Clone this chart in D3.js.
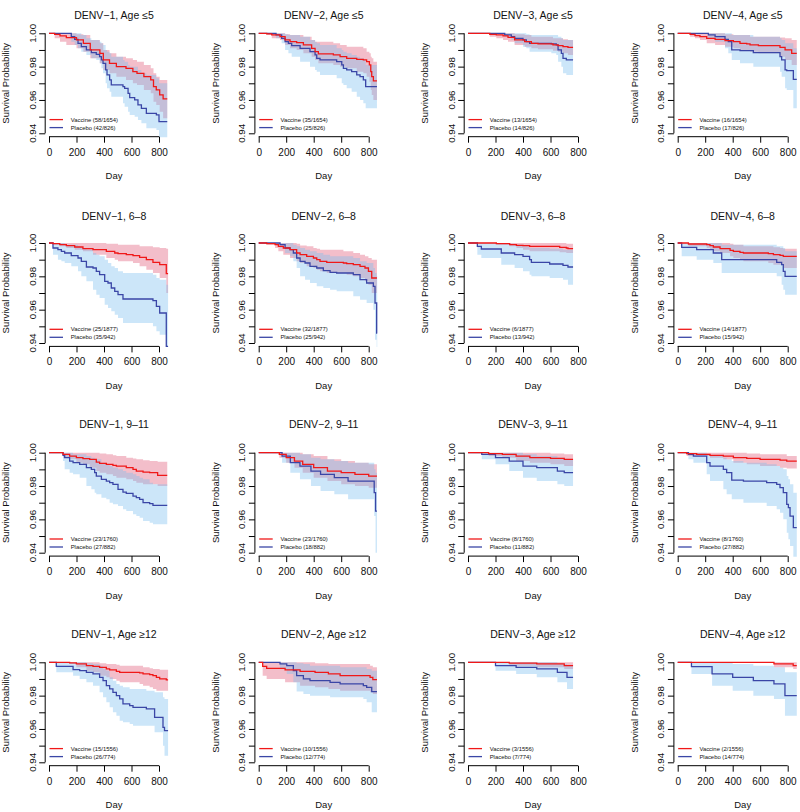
<!DOCTYPE html>
<html><head><meta charset="utf-8">
<script src="https://cdn.jsdelivr.net/npm/d3@7"></script>
<style>body{margin:0;background:#fff}svg text{font-family:"Liberation Sans",Arial,Helvetica,sans-serif;fill:#111}</style>
</head><body><svg id="c" width="800" height="812"></svg>
<script>
// ---- labels ----
const serotypes = ["DENV\u22121","DENV\u22122","DENV\u22123","DENV\u22124"];
const ageGroups = ["Age \u22645","6\u20138","9\u201311","Age \u226512"];
const vaccineCounts = [
  ["58/1654","35/1654","13/1654","16/1654"],
  ["25/1877","32/1877","6/1877","14/1877"],
  ["23/1760","23/1760","8/1760","8/1760"],
  ["15/1556","10/1556","3/1556","2/1556"]];
const placeboCounts = [
  ["42/826","25/826","14/826","17/826"],
  ["35/942","25/942","13/942","15/942"],
  ["27/882","18/882","11/882","27/882"],
  ["26/774","12/774","7/774","14/774"]];
const xTicks = [0,200,400,600,800];
const yTicks = [0.94,0.95,0.96,0.97,0.98,0.99,1.00];
const yTickLabels = [0.94,0.96,0.98,1.00];

// ---- curves: [day, survival, lower CI, upper CI] (step after) ----
const D1_A5_VAC=[[0,1,1,1],[41,.9994,.997,1],[80,.9984,.995,1],[126,.9974,.993,1],[200,.996,.991,.9995],[250,.994,.989,.999],[300,.990,.985,.996],[370,.988,.982,.994],[395,.984,.978,.990],[440,.982,.976,.988],[490,.980,.974,.986],[560,.979,.972,.985],[610,.977,.970,.984],[640,.976,.969,.983],[690,.974,.966,.981],[740,.972,.964,.979],[760,.968,.959,.976],[780,.966,.957,.974],[805,.963,.953,.972],[830,.9606,.949,.972],[860,.9606,.949,.972]];
const D1_A5_PLA=[[0,1,1,1],[162,.998,.995,1],[187,.9964,.993,1],[211,.994,.991,1],[235,.992,.989,.999],[272,.990,.987,.997],[308,.9884,.985,.996],[344,.9874,.984,.996],[368,.986,.982,.995],[381,.984,.979,.994],[393,.982,.976,.993],[412,.978,.970,.990],[422,.975,.967,.989],[441,.972,.965,.988],[453,.969,.962,.986],[538,.968,.958,.984],[550,.967,.956,.983],[575,.964,.953,.981],[587,.9614,.951,.980],[623,.960,.950,.980],[647,.957,.948,.978],[672,.955,.946,.976],[708,.952,.943,.975],[781,.951,.942,.973],[800,.947,.936,.970],[860,.947,.936,.970]];
const D2_A5_VAC=[[0,1,1,1],[58,.9996,.999,1],[95,.999,.997,1],[155,.998,.996,1],[192,.996,.993,.9995],[228,.995,.991,.999],[276,.9944,.990,.999],[325,.993,.988,.998],[385,.991,.986,.996],[410,.989,.984,.995],[434,.9876,.982,.995],[543,.987,.981,.994],[592,.986,.980,.993],[640,.985,.979,.992],[713,.9844,.977,.992],[761,.984,.976,.991],[785,.983,.974,.989],[805,.981,.971,.988],[815,.977,.966,.986],[822,.974,.963,.985],[834,.9714,.960,.983],[860,.9714,.960,.983]];
const D2_A5_PLA=[[0,1,1,1],[126,.999,.997,1],[167,.997,.994,1],[192,.995,.990,.9995],[216,.994,.988,.999],[240,.9926,.986,.999],[301,.991,.983,.998],[373,.989,.980,.996],[410,.987,.978,.995],[422,.985,.977,.994],[446,.984,.975,.993],[567,.983,.973,.991],[604,.981,.970,.990],[616,.979,.969,.989],[640,.978,.967,.988],[676,.977,.965,.987],[713,.975,.962,.986],[737,.974,.960,.985],[761,.972,.958,.984],[778,.968,.955,.981],[860,.968,.955,.981]];
const D3_A5_VAC=[[0,1,1,1],[158,.9994,.998,1],[206,.999,.997,1],[255,.9984,.996,1],[291,.9976,.995,1],[339,.996,.993,.9995],[412,.995,.992,.999],[461,.994,.991,.998],[509,.9936,.9905,.998],[618,.993,.9895,.997],[655,.9926,.989,.997],[691,.992,.988,.9965],[727,.9916,.987,.996],[764,.9916,.987,.996]];
const D3_A5_PLA=[[0,1,1,1],[267,.999,.998,1],[315,.998,.996,1],[339,.997,.994,1],[400,.996,.992,1],[424,.995,.991,.9995],[448,.994,.989,.999],[606,.9936,.988,.999],[642,.993,.987,.999],[655,.990,.983,.998],[679,.988,.980,.997],[691,.985,.976,.996],[715,.984,.975,.996],[764,.984,.975,.996]];
const D4_A5_VAC=[[0,1,1,1],[90,.9994,.998,1],[126,.9986,.997,1],[162,.998,.996,1],[211,.997,.994,1],[272,.9964,.993,1],[344,.9956,.992,.9995],[405,.995,.991,.999],[453,.994,.990,.999],[502,.9936,.9895,.999],[526,.993,.989,.998],[587,.9926,.988,.998],[744,.9916,.986,.9975],[781,.990,.984,.997],[829,.988,.981,.996],[866,.988,.981,.996]];
const D4_A5_PLA=[[0,1,1,1],[223,.999,.997,1],[272,.998,.995,1],[344,.9964,.991,1],[368,.995,.988,1],[393,.990,.984,.999],[453,.9896,.982,.999],[550,.9884,.980,.998],[744,.986,.977,.997],[756,.984,.974,.996],[781,.978,.967,.994],[793,.9776,.966,.994],[841,.9724,.955,.991],[866,.9724,.955,.991]];

const D1_A68_VAC=[[0,1,1,1],[29,.9996,.999,1],[78,.999,.998,1],[126,.9984,.997,1],[187,.9976,.996,1],[247,.9966,.995,1],[320,.996,.993,1],[417,.995,.991,.9995],[478,.994,.990,.9995],[502,.9936,.989,.999],[562,.993,.989,.999],[611,.9924,.988,.999],[659,.9914,.986,.998],[708,.990,.984,.998],[756,.9884,.982,.9975],[805,.987,.979,.997],[853,.9816,.970,.9966],[866,.9816,.970,.9966]];
const D1_A68_PLA=[[0,1,1,1],[29,.997,.993,1],[65,.996,.990,1],[90,.995,.989,1],[114,.994,.988,.999],[162,.9924,.986,.999],[211,.991,.983,.998],[235,.989,.980,.997],[272,.9856,.977,.996],[320,.985,.972,.994],[344,.983,.969,.993],[368,.981,.967,.992],[405,.977,.963,.990],[429,.976,.961,.988],[453,.973,.959,.986],[478,.971,.957,.985],[502,.969,.955,.983],[538,.9664,.952,.982],[756,.9654,.950,.981],[781,.962,.947,.979],[805,.958,.945,.978],[853,.938,.920,.975],[866,.938,.920,.975]];
const D2_A68_VAC=[[0,1,1,1],[58,.9996,.999,1],[119,.999,.997,1],[143,.998,.995,1],[179,.997,.993,1],[228,.996,.991,1],[276,.994,.989,.9995],[301,.993,.988,.9985],[349,.992,.986,.998],[398,.991,.985,.997],[422,.990,.984,.9965],[446,.989,.983,.996],[495,.9884,.982,.996],[616,.988,.982,.995],[640,.9876,.981,.995],[688,.987,.980,.994],[737,.986,.979,.993],[773,.985,.977,.992],[798,.983,.975,.991],[822,.979,.970,.990],[860,.979,.970,.990]];
const D2_A68_PLA=[[0,1,1,1],[155,.999,.997,1],[192,.997,.994,1],[228,.996,.992,1],[252,.994,.989,.999],[276,.991,.985,.998],[301,.989,.980,.997],[337,.988,.978,.996],[373,.986,.976,.995],[422,.985,.974,.994],[470,.9834,.973,.993],[519,.9824,.972,.992],[567,.982,.971,.992],[688,.981,.968,.991],[737,.978,.966,.989],[785,.976,.964,.988],[834,.974,.960,.985],[846,.964,.942,.982],[858,.946,.920,.980],[862,.946,.920,.980]];
const D3_A68_VAC=[[0,1,1,1],[206,.9996,.999,1],[303,.999,.998,1],[352,.9986,.997,1],[400,.9984,.996,1],[448,.998,.995,1],[667,.9974,.9945,1],[715,.997,.994,.9995],[727,.9966,.994,.9995],[764,.9966,.994,.9995]];
const D3_A68_PLA=[[0,1,1,1],[68,.998,.993,1],[97,.9964,.991,1],[242,.994,.987,.9995],[339,.993,.985,.999],[400,.992,.983,.998],[448,.990,.981,.997],[461,.9884,.980,.997],[594,.9874,.979,.9965],[691,.9866,.978,.996],[727,.9856,.975,.996],[764,.9856,.975,.996]];
const D4_A68_VAC=[[0,1,1,1],[78,.9994,.998,1],[211,.999,.997,1],[235,.9984,.996,1],[259,.9976,.995,1],[308,.9966,.994,1],[381,.9956,.992,.9995],[405,.995,.991,.999],[453,.9944,.990,.999],[478,.994,.989,.998],[659,.9936,.988,.998],[696,.993,.987,.9975],[744,.9926,.987,.997],[768,.992,.985,.9965],[866,.992,.985,.9965]];
const D4_A68_PLA=[[0,1,1,1],[29,.9974,.992,1],[138,.996,.990,1],[259,.994,.988,1],[320,.990,.982,.999],[720,.9884,.980,.998],[756,.987,.975,.998],[768,.983,.972,.997],[781,.980,.969,.995],[866,.980,.969,.995]];

const D1_A911_VAC=[[0,1,1,1],[102,.999,.997,1],[150,.998,.996,1],[199,.997,.994,1],[247,.9964,.993,1],[296,.996,.991,1],[344,.9944,.989,1],[368,.9936,.988,.9995],[417,.993,.987,.999],[465,.9924,.986,.9985],[490,.992,.985,.998],[562,.991,.984,.997],[611,.990,.983,.9965],[635,.989,.982,.996],[684,.9884,.981,.9955],[732,.988,.981,.995],[790,.9864,.980,.9945],[860,.9864,.980,.9945]];
const D1_A911_PLA=[[0,1,1,1],[102,.9984,.995,1],[114,.997,.990,1],[150,.995,.988,1],[175,.994,.987,.999],[223,.993,.985,.999],[272,.991,.980,.998],[308,.990,.978,.997],[332,.988,.976,.996],[344,.986,.975,.996],[381,.984,.973,.994],[417,.983,.972,.993],[441,.982,.970,.992],[465,.981,.969,.991],[502,.978,.968,.990],[538,.9764,.966,.989],[562,.9756,.965,.988],[611,.974,.963,.987],[635,.973,.962,.986],[659,.972,.961,.985],[684,.970,.959,.984],[732,.9694,.958,.982],[756,.9684,.957,.981],[860,.9684,.957,.981]];
const D2_A911_VAC=[[0,1,1,1],[150,.999,.997,1],[200,.997,.994,1],[260,.995,.991,1],[320,.993,.988,.999],[400,.991,.985,.998],[500,.989,.983,.996],[600,.988,.981,.995],[700,.987,.980,.994],[800,.986,.979,.993],[860,.986,.979,.993]];
const D2_A911_PLA=[[0,1,1,1],[170,.998,.994,1],[230,.994,.988,1],[300,.992,.984,.999],[380,.989,.980,.997],[450,.987,.977,.996],[550,.985,.975,.995],[650,.983,.972,.994],[840,.976,.962,.990],[850,.965,.940,.988],[860,.965,.940,.988]];
const D3_A911_VAC=[[0,1,1,1],[150,.9994,.998,1],[250,.999,.997,1],[350,.998,.995,1],[450,.997,.994,1],[600,.9966,.993,.9995],[700,.996,.992,.999],[764,.996,.992,.999]];
const D3_A911_PLA=[[0,1,1,1],[100,.999,.996,1],[200,.997,.993,1],[300,.995,.989,1],[400,.992,.985,.999],[500,.991,.983,.998],[650,.989,.981,.997],[700,.988,.980,.996],[764,.988,.980,.996]];
const D4_A911_VAC=[[0,1,1,1],[65,.9994,.998,1],[138,.999,.998,1],[235,.9984,.997,1],[332,.998,.996,1],[405,.997,.994,1],[502,.9966,.993,.9995],[599,.996,.992,.999],[744,.9956,.991,.999],[793,.995,.9905,.998],[866,.995,.9905,.998]];
const D4_A911_PLA=[[0,1,1,1],[78,.999,.996,1],[114,.998,.994,1],[211,.994,.987,.999],[235,.992,.983,.998],[332,.990,.978,.997],[356,.988,.975,.996],[393,.9836,.972,.995],[478,.983,.970,.994],[647,.982,.968,.993],[720,.981,.966,.992],[744,.979,.964,.991],[768,.976,.960,.990],[793,.969,.952,.986],[805,.967,.948,.984],[817,.962,.944,.981],[841,.955,.935,.976],[866,.955,.935,.976]];

const D1_A12_VAC=[[0,1,1,1],[150,.9996,.999,1],[199,.999,.997,1],[272,.998,.995,1],[320,.9976,.994,1],[368,.997,.992,.9995],[417,.996,.991,.999],[441,.9954,.990,.999],[490,.9946,.989,.9985],[514,.994,.988,.998],[659,.9936,.987,.998],[684,.993,.986,.997],[732,.9926,.985,.9965],[756,.992,.984,.996],[781,.991,.983,.996],[805,.990,.983,.9955],[853,.9894,.983,.9955],[866,.9894,.983,.9955]];
const D1_A12_PLA=[[0,1,1,1],[53,.9976,.994,1],[175,.9956,.992,1],[223,.995,.990,1],[272,.994,.988,.9995],[320,.993,.986,.999],[368,.991,.982,.998],[393,.989,.979,.996],[417,.986,.976,.995],[441,.984,.973,.991],[465,.982,.970,.989],[490,.980,.968,.987],[514,.978,.965,.986],[538,.975,.964,.985],[587,.974,.963,.984],[611,.973,.962,.984],[708,.972,.962,.983],[768,.967,.958,.982],[829,.961,.950,.979],[840,.959,.944,.978],[866,.959,.944,.978]];
const D2_A12_VAC=[[0,1,1,1],[29,.9976,.992,1],[58,.9964,.990,1],[192,.9954,.988,1],[301,.9946,.986,1],[410,.994,.985,.9995],[507,.993,.984,.999],[592,.992,.983,.999],[810,.991,.982,.998],[830,.9896,.981,.997],[860,.9896,.981,.997]];
const D2_A12_PLA=[[0,1,1,1],[155,.999,.996,1],[204,.998,.993,1],[252,.995,.988,1],[276,.992,.9825,.9995],[325,.990,.981,.999],[373,.989,.980,.998],[519,.988,.979,.998],[592,.987,.979,.997],[761,.986,.978,.997],[785,.985,.976,.996],[822,.9824,.970,.995],[860,.9824,.970,.995]];
const D3_A12_VAC=[[0,1,1,1],[300,.9995,.998,1],[500,.999,.997,1],[700,.998,.996,1],[764,.998,.996,1]];
const D3_A12_PLA=[[0,1,1,1],[200,.998,.995,1],[350,.997,.993,1],[500,.996,.991,1],[650,.994,.988,.999],[720,.991,.984,.998],[764,.991,.984,.998]];
const D4_A12_VAC=[[0,1,1,1],[700,.999,.997,1],[840,.998,.996,1],[866,.998,.996,1]];
const D4_A12_PLA=[[0,1,1,1],[100,.9974,.993,1],[250,.993,.986,1],[400,.991,.983,.999],[550,.989,.980,.998],[700,.987,.978,.997],[780,.980,.968,.994],[866,.980,.968,.994]];

const vaccineCurves = [
  [D1_A5_VAC,D2_A5_VAC,D3_A5_VAC,D4_A5_VAC],
  [D1_A68_VAC,D2_A68_VAC,D3_A68_VAC,D4_A68_VAC],
  [D1_A911_VAC,D2_A911_VAC,D3_A911_VAC,D4_A911_VAC],
  [D1_A12_VAC,D2_A12_VAC,D3_A12_VAC,D4_A12_VAC]];
const placeboCurves = [
  [D1_A5_PLA,D2_A5_PLA,D3_A5_PLA,D4_A5_PLA],
  [D1_A68_PLA,D2_A68_PLA,D3_A68_PLA,D4_A68_PLA],
  [D1_A911_PLA,D2_A911_PLA,D3_A911_PLA,D4_A911_PLA],
  [D1_A12_PLA,D2_A12_PLA,D3_A12_PLA,D4_A12_PLA]];

// ---- layout ----
const colX0 = [49, 258.7, 468, 677.7];     // pixel of day 0
const rowY1 = [33.3, 243, 452.7, 662.3];   // pixel of survival 1.00
const titleY = [15, 216, 424.3, 634];
const VAC_COLOR = "#f01818", PLA_COLOR = "#3a46a6";
const VAC_FILL = "rgba(214,40,80,0.30)", PLA_FILL = "rgba(120,190,240,0.38)";

const svg = d3.select("#c");
svg.append("rect").attr("width",800).attr("height",812).attr("fill","#fff");

for (let r = 0; r < 4; r++) {
  for (let c = 0; c < 4; c++) {
    const x0 = colX0[c], y1 = rowY1[r];
    const x = d3.scaleLinear().domain([0, 800]).range([x0, x0 + 110]);
    const y = d3.scaleLinear().domain([0.94, 1.0]).range([y1 + 100, y1]);
    const g = svg.append("g");
    const cid = `clip${r}${c}`;
    g.append("clipPath").attr("id", cid).append("rect")
      .attr("x", x(-28)).attr("y", y(1.0024)).attr("width", x(1000) - x(-28)).attr("height", y(0.9376) - y(1.0024));
    const plot = g.append("g").attr("clip-path", `url(#${cid})`);

    const area = d3.area().curve(d3.curveStepAfter).x(d => x(d[0])).y0(d => y(d[2])).y1(d => y(d[3]));
    const line = d3.line().curve(d3.curveStepAfter).x(d => x(d[0])).y(d => y(d[1]));
    plot.append("path").attr("d", area(vaccineCurves[r][c])).attr("fill", VAC_FILL);
    plot.append("path").attr("d", area(placeboCurves[r][c])).attr("fill", PLA_FILL);
    plot.append("path").attr("d", line(placeboCurves[r][c])).attr("fill", "none").attr("stroke", PLA_COLOR).attr("stroke-width", 1.3);
    plot.append("path").attr("d", line(vaccineCurves[r][c])).attr("fill", "none").attr("stroke", VAC_COLOR).attr("stroke-width", 1.3);

    // axes
    const xAxisY = y(0.94) + 3.4;
    const xa = g.append("g").attr("transform", `translate(0,${xAxisY})`)
      .call(d3.axisBottom(x).tickValues(xTicks).tickSize(6).tickPadding(6).tickFormat(d3.format("d")));
    xa.select(".domain").attr("d", `M${x(0)},0H${x(800)}`).attr("stroke", "#000");
    xa.selectAll(".tick line").attr("stroke", "#000");
    xa.selectAll("text").attr("font-size", 10).attr("fill", "#111").attr("font-family", '"Liberation Sans",Arial,sans-serif');

    const yAxisX = x0 - 3.8;
    const ya = g.append("g").attr("transform", `translate(${yAxisX},0)`)
      .call(d3.axisLeft(y).tickValues(yTicks).tickSize(6).tickFormat(""));
    ya.select(".domain").attr("d", `M0,${y(0.94)}V${y(1.0)}`).attr("stroke", "#000");
    ya.selectAll(".tick line").attr("stroke", "#000");
    yTickLabels.forEach(v => {
      g.append("text").attr("transform", `translate(${x0 - 16.7},${y(v)}) rotate(-90)`)
        .attr("text-anchor", "middle").attr("dy", "0.35em").attr("font-size", 9.8).text(d3.format(".2f")(v));
    });

    // labels
    g.append("text").attr("x", x0 + 65).attr("y", titleY[r]).attr("dy", "0.35em")
      .attr("text-anchor", "middle").attr("font-size", 10.5).text(`${serotypes[c]}, ${ageGroups[r]}`);
    g.append("text").attr("x", x0 + 65).attr("y", y1 + 142.5).attr("dy", "0.35em")
      .attr("text-anchor", "middle").attr("font-size", 9.5).text("Day");
    g.append("text").attr("transform", `translate(${x0 - 43},${y1 + 50}) rotate(-90)`)
      .attr("text-anchor", "middle").attr("dy", "0.35em").attr("font-size", 9.5).text("Survival Probability");

    // legend
    const leg = [["Vaccine", vaccineCounts[r][c], VAC_COLOR, 86.3], ["Placebo", placeboCounts[r][c], PLA_COLOR, 94.3]];
    leg.forEach(([name, cnt, col, dy]) => {
      g.append("line").attr("x1", x0 + 0.5).attr("x2", x0 + 14).attr("y1", y1 + dy).attr("y2", y1 + dy)
        .attr("stroke", col).attr("stroke-width", 1.3);
      g.append("text").attr("x", x0 + 21.7).attr("y", y1 + dy).attr("dy", "0.35em")
        .attr("font-size", 5.9).attr("fill", "#222").text(`${name} (${cnt})`);
    });
  }
}
</script></body></html>
